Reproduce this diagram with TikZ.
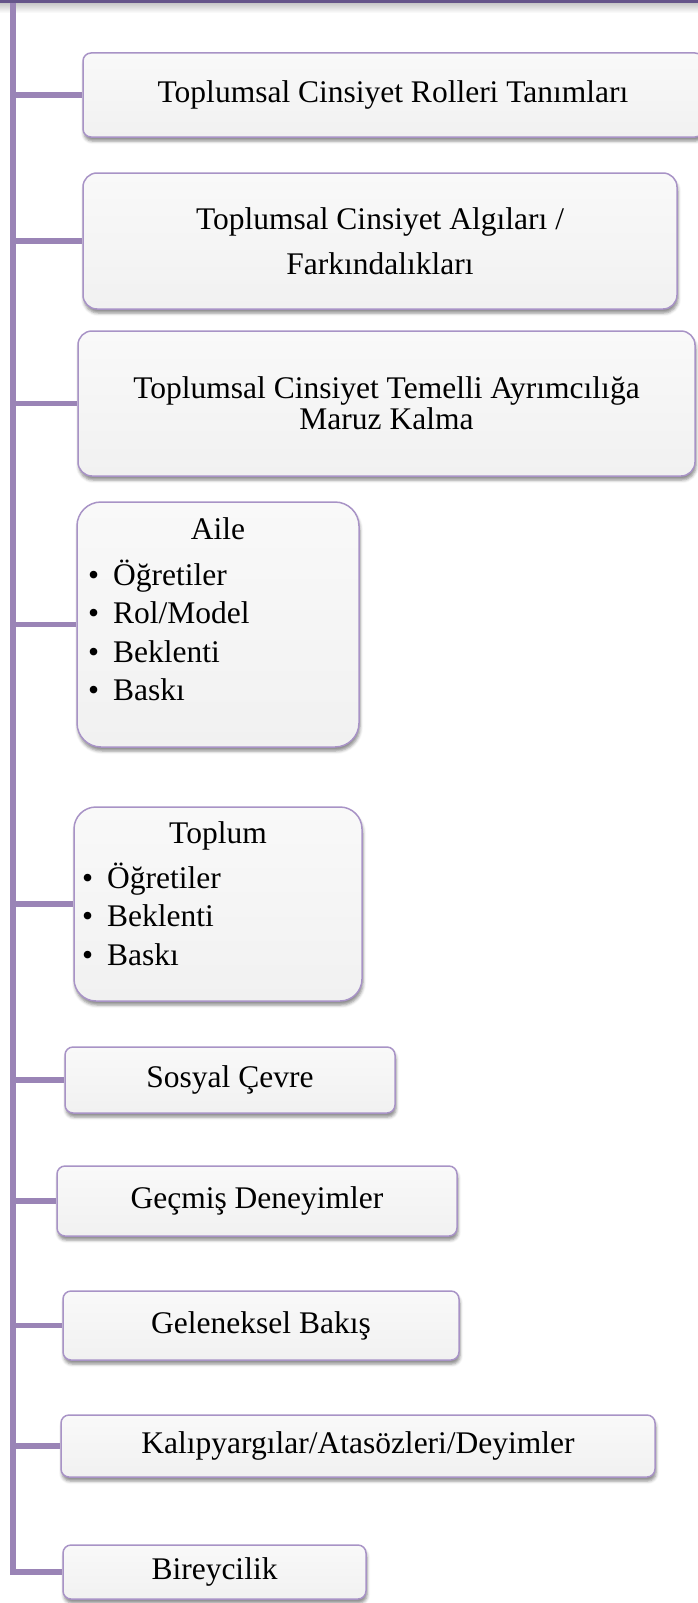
\documentclass[tikz,border=0pt]{standalone}
\usepackage{fontspec}
\setmainfont{Liberation Serif}
\usetikzlibrary{shadows.blur}

\definecolor{spine}{HTML}{9A84B6}
\definecolor{topbar}{HTML}{66558A}
\definecolor{boxline}{HTML}{A893C6}
\definecolor{boxtop}{HTML}{F9F9F9}
\definecolor{boxbottom}{HTML}{F1F1F1}

\tikzset{
    branch/.style={draw=boxline, line width=1.5pt, top color=boxtop, bottom color=boxbottom,
        rounded corners=8pt, inner sep=0pt, align=center,
        blur shadow={shadow xshift=1pt, shadow yshift=-4pt, shadow blur radius=3pt, shadow opacity=45}},
    link/.style={draw=spine, line width=5.5pt},
    listitem/.style={anchor=base west, inner sep=0pt}
}

\newcommand{\itm}[1]{\makebox[25pt][l]{\textbullet}#1}

\begin{document}
\begin{tikzpicture}[x=1pt, y=-1pt, every node/.style={font=\fontsize{31.5}{36}\selectfont}]
    \useasboundingbox (0,0) rectangle (698,1603);

    % top bar
    \shade[top color=black!22, bottom color=white] (0,3) rectangle (698,13);
    \fill[topbar] (-5,-20) rectangle (703,3.5);

    % boxes
    \node[branch, minimum width=620pt, minimum height=84pt] (rolleri) at (393,95)
        {Toplumsal Cinsiyet Rolleri Tanımları};
    \node[branch, rounded corners=14pt, minimum width=594pt, minimum height=136pt] (algi) at (380,241)
        {Toplumsal Cinsiyet Algıları /\\[9pt]Farkındalıkları};
    \node[branch, rounded corners=14pt, minimum width=617pt, minimum height=145pt] (ayrim) at (386.5,403.5)
        {Toplumsal Cinsiyet Temelli Ayrımcılığa\\[-5pt]Maruz Kalma};
    \node[branch, rounded corners=24pt, minimum width=282pt, minimum height=245pt] (aile) at (218,624.5) {};
    \node[branch, rounded corners=22pt, minimum width=288pt, minimum height=194pt] (toplum) at (218,904) {};
    \node[branch, minimum width=330pt, minimum height=66pt] (sosyal) at (230,1080) {Sosyal Çevre};
    \node[branch, minimum width=400pt, minimum height=70pt] (gecmis) at (257,1201) {Geçmiş Deneyimler};
    \node[branch, minimum width=396pt, minimum height=69pt] (gelenek) at (261,1325.5) {Geleneksel Bakış};
    \node[branch, minimum width=594pt, minimum height=62pt] (kalip) at (358,1446)
        {Kalıpyargılar/Atasözleri/Deyimler};
    \node[branch, minimum width=303pt, minimum height=54pt] (birey) at (214.5,1572) {Bireycilik};

    % box texts with bullets
    \node[anchor=base, inner sep=0pt] (aile-title) at (218,539) {Aile};
    \foreach \txt [count=\i] in {Öğretiler, Rol/Model, Beklenti, Baskı}
        \node[listitem] (aile-\i) at (88,{585+38.5*(\i-1)}) {\itm{\txt}};

    \node[anchor=base, inner sep=0pt] (toplum-title) at (218,843) {Toplum};
    \foreach \txt [count=\i] in {Öğretiler, Beklenti, Baskı}
        \node[listitem] (toplum-\i) at (82,{888+38.5*(\i-1)}) {\itm{\txt}};

    % spine and links
    \coordinate (spinetop) at (13,3);
    \draw[link] (spinetop) |- (birey.west);
    \foreach \b in {rolleri, algi, ayrim, aile, toplum, sosyal, gecmis, gelenek, kalip}
        \draw[link] (\b.west -| spinetop) -- (\b.west);
\end{tikzpicture}
\end{document}
